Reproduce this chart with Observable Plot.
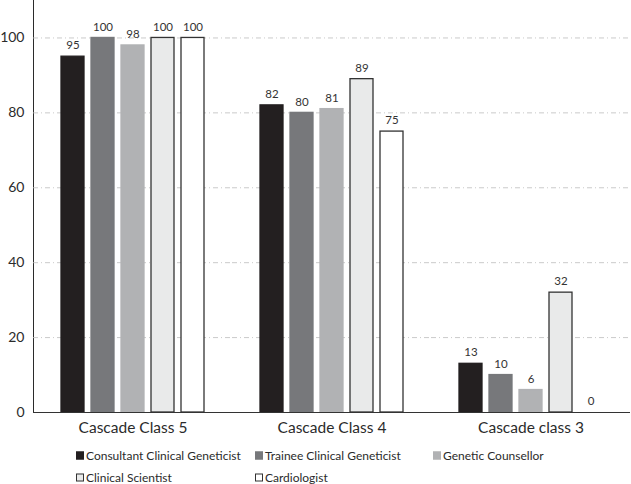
<!DOCTYPE html>
<html><head><meta charset="utf-8">
<script src="https://cdn.jsdelivr.net/npm/d3@7"></script>
<script src="https://cdn.jsdelivr.net/npm/@observablehq/plot@0.6"></script>
<style>
body{margin:0;background:#fff;font-family:Lato,"Open Sans",sans-serif;color:#2b2b2b;}
#legend{position:relative;width:631px;height:44px;font-size:12px;}
.item{position:absolute;display:flex;align-items:center;white-space:nowrap;transform:translateY(-50%);}
.sw{width:8px;height:8px;box-sizing:border-box;margin-right:2px;}
</style></head><body><div id="chart"></div><div id="legend"></div>
<script>
const groups = ["Cascade Class 5", "Cascade Class 4", "Cascade class 3"];
const series = ["Consultant Clinical Geneticist", "Trainee Clinical Geneticist", "Genetic Counsellor", "Clinical Scientist", "Cardiologist"];
const class5 = [95, 100, 98, 100, 100];
const class4 = [82, 80, 81, 89, 75];
const class3 = [13, 10, 6, 32, 0];
const fills = ["#231f20", "#77787b", "#b1b2b4", "#e9eaea", "#ffffff"];
const strokes = ["#231f20", "#77787b", "#b1b2b4", "#333333", "#333333"];
const yTicks = [0, 20, 40, 60, 80, 100];

const valuesByGroup = [class5, class4, class3];
const data = [];
groups.forEach((g, gi) => series.forEach((s, si) => data.push({group: g, series: s, value: valuesByGroup[gi][si]})));

const chart = Plot.plot({
  width: 631, height: 440,
  marginLeft: 32, marginRight: 0, marginTop: 0, marginBottom: 28,
  style: {fontFamily: "Lato, 'Open Sans', sans-serif", fontSize: "14px", color: "#2b2b2b", background: "#fff"},
  fx: {domain: groups, padding: 0, label: null, axis: null},
  x: {domain: series, paddingInner: 0.22, paddingOuter: 0.87, axis: null},
  y: {domain: [0, 110], ticks: yTicks, label: null, tickSize: 0, tickPadding: 9, line: true},
  color: {domain: series, range: fills},
  marks: [
    Plot.gridY(yTicks.filter(d => d > 0), {stroke: "#bdbdbd", strokeOpacity: 1, strokeWidth: 0.8, strokeDasharray: "5,3,1,3"}),
    Plot.barY(data, {fx: "group", x: "series", y: "value", fill: "series", stroke: d => strokes[series.indexOf(d.series)], strokeWidth: 1.3}),
    Plot.text(data, {fx: "group", x: "series", y: "value", text: d => String(d.value), dy: -11, fontSize: 11.5, fill: "#333"}),
    Plot.ruleY([0], {stroke: "#333", strokeWidth: 1.2}),
    Plot.axisFx({anchor: "bottom", tickSize: 0, tickPadding: 9, fontSize: 15.5, label: null})
  ]
});
document.getElementById("chart").appendChild(chart);

const legend = document.getElementById("legend");
const pos = [[76, 15], [255, 15], [433, 15], [76, 37], [255, 37]];
series.forEach((s, i) => {
  const it = document.createElement("div");
  it.className = "item";
  it.style.left = pos[i][0] + "px";
  it.style.top = pos[i][1] + "px";
  const sw = document.createElement("span");
  sw.className = "sw";
  sw.style.background = fills[i];
  sw.style.border = "1px solid " + strokes[i];
  it.appendChild(sw);
  const t = document.createElement("span");
  t.textContent = s;
  it.appendChild(t);
  legend.appendChild(it);
});
</script></body></html>
